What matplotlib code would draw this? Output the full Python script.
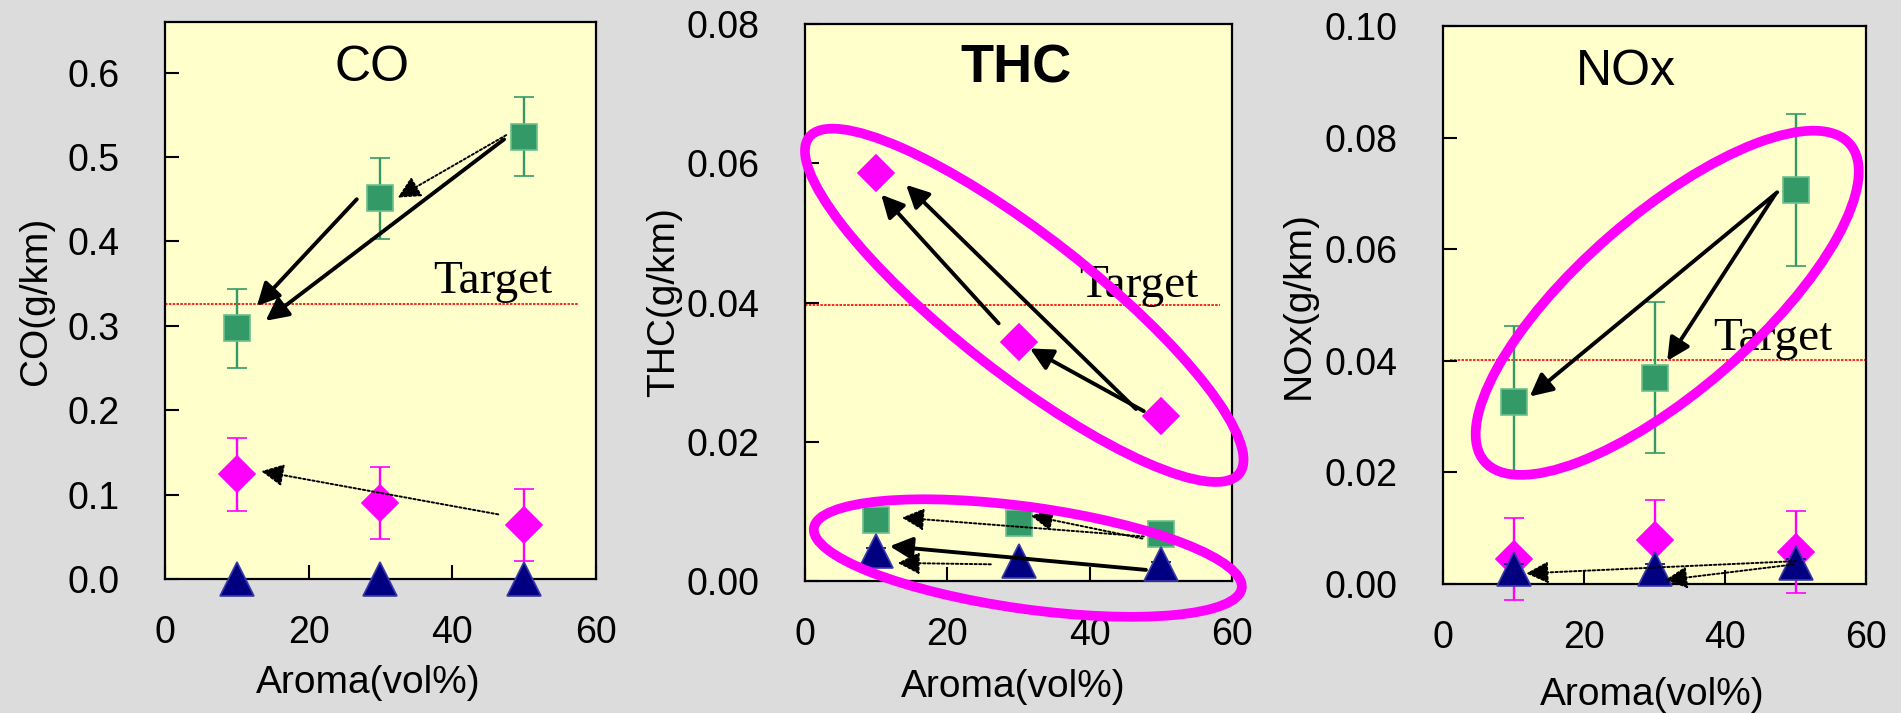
import matplotlib
matplotlib.use("Agg")
import matplotlib.pyplot as plt
import matplotlib.ticker as ticker
from matplotlib.patches import Ellipse
from matplotlib.transforms import ScaledTranslation

plt.rcParams['font.family'] = ['Liberation Sans', 'DejaVu Sans']

# ---- data ----
AROMA = [10, 30, 50]

CO_SQ = [0.297, 0.451, 0.524]
CO_SQ_ERR = [0.047, 0.048, 0.047]
CO_DIA = [0.124, 0.090, 0.064]
CO_DIA_ERR = [0.043, 0.043, 0.043]
CO_TRI = [0.0, 0.0, 0.0]
CO_TRI_ERR = [0.0, 0.0, 0.0]
CO_TARGET = 0.326

THC_SQ = [0.0087, 0.0083, 0.0067]
THC_SQ_ERR = [0.0, 0.0, 0.0]
THC_DIA = [0.0586, 0.0344, 0.0237]
THC_DIA_ERR = [0.0, 0.0, 0.0]
THC_TRI = [0.0043, 0.0029, 0.0024]
THC_TRI_ERR = [0.0004, 0.0004, 0.0004]
THC_TARGET = 0.0396

NOX_SQ = [0.0327, 0.0370, 0.0706]
NOX_SQ_ERR = [0.0136, 0.0136, 0.0136]
NOX_DIA = [0.0045, 0.0078, 0.0057]
NOX_DIA_ERR = [0.0073, 0.0073, 0.0073]
NOX_TRI = [0.0027, 0.0027, 0.0037]
NOX_TRI_ERR = [0.0008, 0.0008, 0.0008]
NOX_TARGET = 0.0401

CO_YTICKS = [0.0, 0.1, 0.2, 0.3, 0.4, 0.5, 0.6]
THC_YTICKS = [0.0, 0.02, 0.04, 0.06, 0.08]
NOX_YTICKS = [0.0, 0.02, 0.04, 0.06, 0.08, 0.10]
XTICKS = [0, 20, 40, 60]

# arrows: (x_from, y_from, x_to, y_to, style)
CO_ARROWS = [
    (47.2, 0.521, 14.0, 0.306, "solid"),
    (26.7, 0.450, 12.8, 0.3235, "solid"),
    (47.5, 0.526, 32.4, 0.452, "dotted"),
    (46.4, 0.0766, 13.4, 0.1278, "dotted"),
]
THC_ARROWS = [
    (27.2, 0.0370, 10.7, 0.0555, "solid"),
    (46.5, 0.0247, 14.2, 0.0569, "solid"),
    (47.6, 0.0244, 31.6, 0.0334, "solid"),
    (47.6, 0.0064, 13.6, 0.0091, "dotted"),
    (47.4, 0.0061, 31.7, 0.0094, "dotted"),
    (47.9, 0.0016, 11.9, 0.0050, "solid"),
    (26.1, 0.0024, 13.0, 0.0026, "dotted"),
]
NOX_ARROWS = [
    (47.4, 0.0702, 12.3, 0.0336, "solid"),
    (47.1, 0.0698, 31.8, 0.0400, "solid"),
    (50.0, 0.0041, 11.8, 0.0019, "dotted"),
    (49.7, 0.0035, 31.5, 0.0007, "dotted"),
]

# rings: (x_center, y_center, width_px, height_px, angle_deg)
THC_RINGS = [
    (30.8, 0.0396, 546, 138, -38),
    (31.3, 0.0033, 432, 102, -8),
]
NOX_RINGS = [
    (31.8, 0.0504, 484, 176, 41),
]

BG = "#dcdcdc"
PANEL = "#ffffcc"
GREEN = "#339966"
MAGENTA = "#ff00ff"
NAVY = "#000080"
DPI = 100

fig = plt.figure(figsize=(19.01, 7.13), dpi=DPI, facecolor=BG)

panels = [
    dict(rect=[0.0868, 0.1879, 0.2267, 0.7812], title="CO", bold=False, title_x=0.48,
         ylabel="CO(g/km)", ylim=(0, 0.66), yticks=CO_YTICKS, fmt="%.1f",
         sq=(CO_SQ, CO_SQ_ERR), dia=(CO_DIA, CO_DIA_ERR), tri=(CO_TRI, CO_TRI_ERR),
         target=CO_TARGET, target_span=(0, 57.5), target_txt=(37.4, 0.3385),
         arrows=CO_ARROWS, rings=[], ylab_x=-0.30, xlab=(0.471, -0.187)),
    dict(rect=[0.4235, 0.1851, 0.2246, 0.7812], title="THC", bold=True, title_x=0.495,
         ylabel="THC(g/km)", ylim=(0, 0.08), yticks=THC_YTICKS, fmt="%.2f",
         sq=(THC_SQ, THC_SQ_ERR), dia=(THC_DIA, THC_DIA_ERR), tri=(THC_TRI, THC_TRI_ERR),
         target=THC_TARGET, target_span=(0, 58.3), target_txt=(38.5, 0.0408),
         arrows=THC_ARROWS, rings=THC_RINGS, ylab_x=-0.331, xlab=(0.488, -0.19)),
    dict(rect=[0.7591, 0.1809, 0.2225, 0.7826], title="NOx", bold=False, title_x=0.433,
         ylabel="NOx(g/km)", ylim=(0, 0.10), yticks=NOX_YTICKS, fmt="%.2f",
         sq=(NOX_SQ, NOX_SQ_ERR), dia=(NOX_DIA, NOX_DIA_ERR), tri=(NOX_TRI, NOX_TRI_ERR),
         target=NOX_TARGET, target_span=(1, 60), target_txt=(38.3, 0.042),
         arrows=NOX_ARROWS, rings=NOX_RINGS, ylab_x=-0.341, xlab=(0.495, -0.199)),
]


def series(ax, vals, errs, marker, ms, fc, ec, zorder):
    cont = ax.errorbar(AROMA, vals, yerr=errs, fmt=marker, ms=ms, mfc=fc, mec=ec, mew=1.2,
                       ecolor=fc, elinewidth=1.7, capsize=7, capthick=1.7, zorder=zorder)
    for art in cont.get_children():
        art.set_clip_on(False)


for p in panels:
    ax = fig.add_axes(p["rect"], facecolor=PANEL)
    ax.set_xlim(0, 60)
    ax.set_ylim(*p["ylim"])
    ax.set_xticks(XTICKS)
    ax.set_yticks(p["yticks"])
    ax.yaxis.set_major_formatter(ticker.FormatStrFormatter(p["fmt"]))
    ax.tick_params(direction="in", length=10, width=1.5, labelsize=27, color="black")
    ax.tick_params(axis="x", pad=26)
    ax.tick_params(axis="y", pad=33)
    for s in ax.spines.values():
        s.set_linewidth(1.6)
        s.set_zorder(2.5)

    # target line and label
    ax.plot(p["target_span"], [p["target"]] * 2, color="red", lw=1.2, ls=(0, (1.5, 0.8)), zorder=1.5)
    ax.text(*p["target_txt"], "Target", family="Liberation Serif", fontsize=34,
            ha="left", va="baseline", zorder=1.6)

    series(ax, *p["sq"], "s", 19, GREEN, "#6cc08f", 3)
    series(ax, *p["dia"], "D", 18.5, MAGENTA, MAGENTA, 3.1)
    series(ax, *p["tri"], "^", 25, NAVY, "#3a3aa8", 3.2)

    for x0, y0, x1, y1, style in p["arrows"]:
        solid = style == "solid"
        ax.annotate("", xy=(x1, y1), xytext=(x0, y0), zorder=4,
                    arrowprops=dict(arrowstyle="-|>", color="black",
                                    lw=2.8 if solid else 1.4,
                                    ls="-" if solid else (0, (1.2, 1.2)),
                                    mutation_scale=34, shrinkA=0, shrinkB=0))

    for cx, cy, w, h, ang in p["rings"]:
        tr = fig.dpi_scale_trans + ScaledTranslation(cx, cy, ax.transData)
        ax.add_patch(Ellipse((0, 0), w / DPI, h / DPI, angle=ang, transform=tr,
                             fill=False, ec=MAGENTA, lw=7, clip_on=False, zorder=5))

    ax.text(p["title_x"], 0.895, p["title"], transform=ax.transAxes, fontsize=39 if p["bold"] else 36,
            fontweight="bold" if p["bold"] else "normal", ha="center", va="baseline")

    ax.set_ylabel(p["ylabel"], fontsize=28)
    ax.yaxis.set_label_coords(p["ylab_x"], 0.5)
    ax.yaxis.label.set_va("center")
    ax.yaxis.label.set_ha("center")
    ax.set_xlabel("Aroma(vol%)", fontsize=28)
    ax.xaxis.set_label_coords(*p["xlab"])
    ax.xaxis.label.set_va("center")

fig.savefig("out.png", dpi=DPI, facecolor=BG)
